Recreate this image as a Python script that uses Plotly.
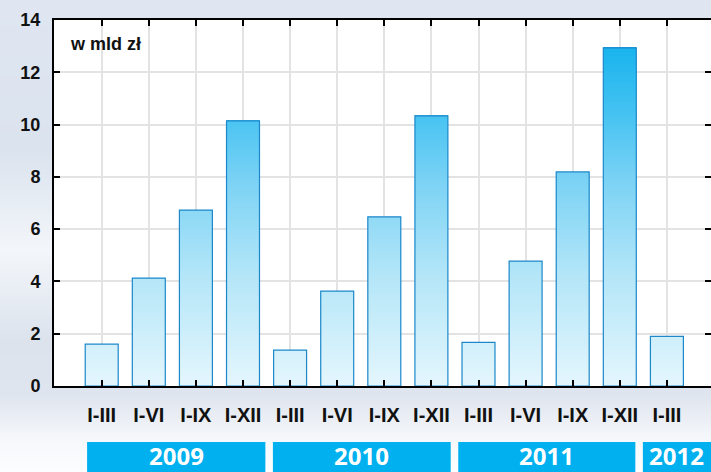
import plotly.graph_objects as go

# ---- data ----
periods = ["I-III", "I-VI", "I-IX", "I-XII",
           "I-III", "I-VI", "I-IX", "I-XII",
           "I-III", "I-VI", "I-IX", "I-XII",
           "I-III"]
values = [1.60, 4.13, 6.73, 10.14,
          1.37, 3.63, 6.47, 10.33,
          1.67, 4.78, 8.19, 12.93,
          1.90]
years = ["2009", "2010", "2011", "2012"]
unit_label = "w mld zł"
y_ticks = [0, 2, 4, 6, 8, 10, 12, 14]

# ---- style ----
W, H = 711, 472
L, R, T, B = 54, 0, 20, 86
step_px = 47.1
first_px = 101.7
band_edges = [-0.31, 3.555, 7.49, 11.41, 13.5]
band_gap = 0.08
band_color = "#00b0ef"
bar_width = 0.70
seg = 0.1
bar_scale = [[0.0, "#e4f6fd"], [0.3, "#b4e6f8"], [0.55, "#7ed3f5"],
             [0.75, "#44c2f1"], [0.93, "#18b3ee"], [1.0, "#10b0ee"]]

x_idx = list(range(len(periods)))
r0 = -(first_px - L) / step_px
r1 = r0 + (W - L - R) / step_px

fig = go.Figure()

# background gradient (full-paper subplot)
bg_y = [-10, 0, 150, 250, 340, 395, 440, 482]
bg_c = ["#dfe6f1", "#dfe6f1", "#dbe3ee", "#f3f6fa", "#dce3ed", "#dfe5ee", "#f6f8fb", "#ffffff"]
n = len(bg_y)
scale = [[i / (n - 1), c] for i, c in enumerate(bg_c)]
fig.add_trace(go.Heatmap(
    x=[-10, W + 10], y=bg_y,
    z=[[i / (n - 1)] * 2 for i in range(n)],
    colorscale=scale, zmin=0, zmax=1, zsmooth="best",
    showscale=False, hoverinfo="skip", xaxis="x", yaxis="y"))

# gradient-filled bars built from stacked (slightly overlapping) slices of each value
bx, bb, by, bc = [], [], [], []
for i, v in zip(x_idx, values):
    base = 0.0
    while base < v - 1e-9:
        h = min(seg, v - base)
        bx.append(i); bb.append(base); by.append(min(h * 1.6, v - base)); bc.append(base + h / 2)
        base += h
fig.add_trace(go.Bar(
    x=bx, y=by, base=bb, width=bar_width,
    marker=dict(color=bc, colorscale=bar_scale, cmin=0, cmax=14,
                line=dict(width=0)),
    hoverinfo="skip", xaxis="x2", yaxis="y2"))

# bar outlines
fig.add_trace(go.Bar(
    x=x_idx, y=values, width=bar_width,
    marker=dict(color="rgba(0,0,0,0)", line=dict(color="#1c88c9", width=1.2)),
    xaxis="x2", yaxis="y2"))

# year bands
shapes = []
annotations = []
for k, yr in enumerate(years):
    x0 = band_edges[k] + (band_gap if k > 0 else 0)
    x1 = band_edges[k + 1] - band_gap
    shapes.append(dict(type="rect", xref="x2", yref="paper",
                       x0=x0, x1=x1, y0=-0.05, y1=1 - 442 / H,
                       fillcolor=band_color, line=dict(width=0), layer="above"))
    xc = (x0 + min(x1, r1)) / 2
    annotations.append(dict(text=yr, xref="x2", yref="paper", x=xc, y=1 - 455.5 / H,
                            xanchor="center", yanchor="middle", showarrow=False,
                            font=dict(family="Open Sans", size=24, color="white", weight="bold")))

annotations.append(dict(text=unit_label, xref="paper", yref="paper",
                        x=68 / W, y=1 - 44 / H, xanchor="left", yanchor="middle",
                        showarrow=False,
                        font=dict(family="Liberation Sans", size=18, color="#111", weight="bold")))

fig.update_layout(
    width=W, height=H, autosize=False,
    margin=dict(l=0, r=0, t=0, b=0, pad=0, autoexpand=False),
    paper_bgcolor="white", plot_bgcolor="white",
    barmode="overlay", showlegend=False, hovermode=False,
    shapes=shapes, annotations=annotations,
    xaxis=dict(domain=[0, 1], range=[0, W], visible=False, fixedrange=True, automargin=False),
    yaxis=dict(domain=[0, 1], range=[H, 0], visible=False, fixedrange=True, automargin=False),
    xaxis2=dict(domain=[L / W, 1 - R / W], range=[r0, r1], anchor="y2", automargin=False,
                tickvals=x_idx, ticktext=periods,
                showgrid=True, gridcolor="#e3e3e3", gridwidth=2,
                showline=True, linecolor="black", linewidth=2, mirror="ticks",
                ticks="inside", ticklen=6, tickwidth=2, tickcolor="black",
                ticklabelstandoff=10,
                tickfont=dict(family="Liberation Sans", size=20, color="#111", weight="bold"),
                zeroline=False, fixedrange=True),
    yaxis2=dict(domain=[B / H, 1 - T / H], range=[0, 14], anchor="x2", automargin=False,
                tickvals=y_ticks,
                showgrid=True, gridcolor="#e3e3e3", gridwidth=2,
                showline=True, linecolor="black", linewidth=2, mirror="ticks",
                ticks="inside", ticklen=6, tickwidth=2, tickcolor="black",
                ticklabelstandoff=8,
                tickfont=dict(family="Liberation Sans", size=18, color="#111", weight="bold"),
                zeroline=False, fixedrange=True),
)

fig.write_html("out.html", config={"responsive": False, "displayModeBar": False},
               post_script="document.body.style.margin='0';document.body.style.overflow='hidden';")
